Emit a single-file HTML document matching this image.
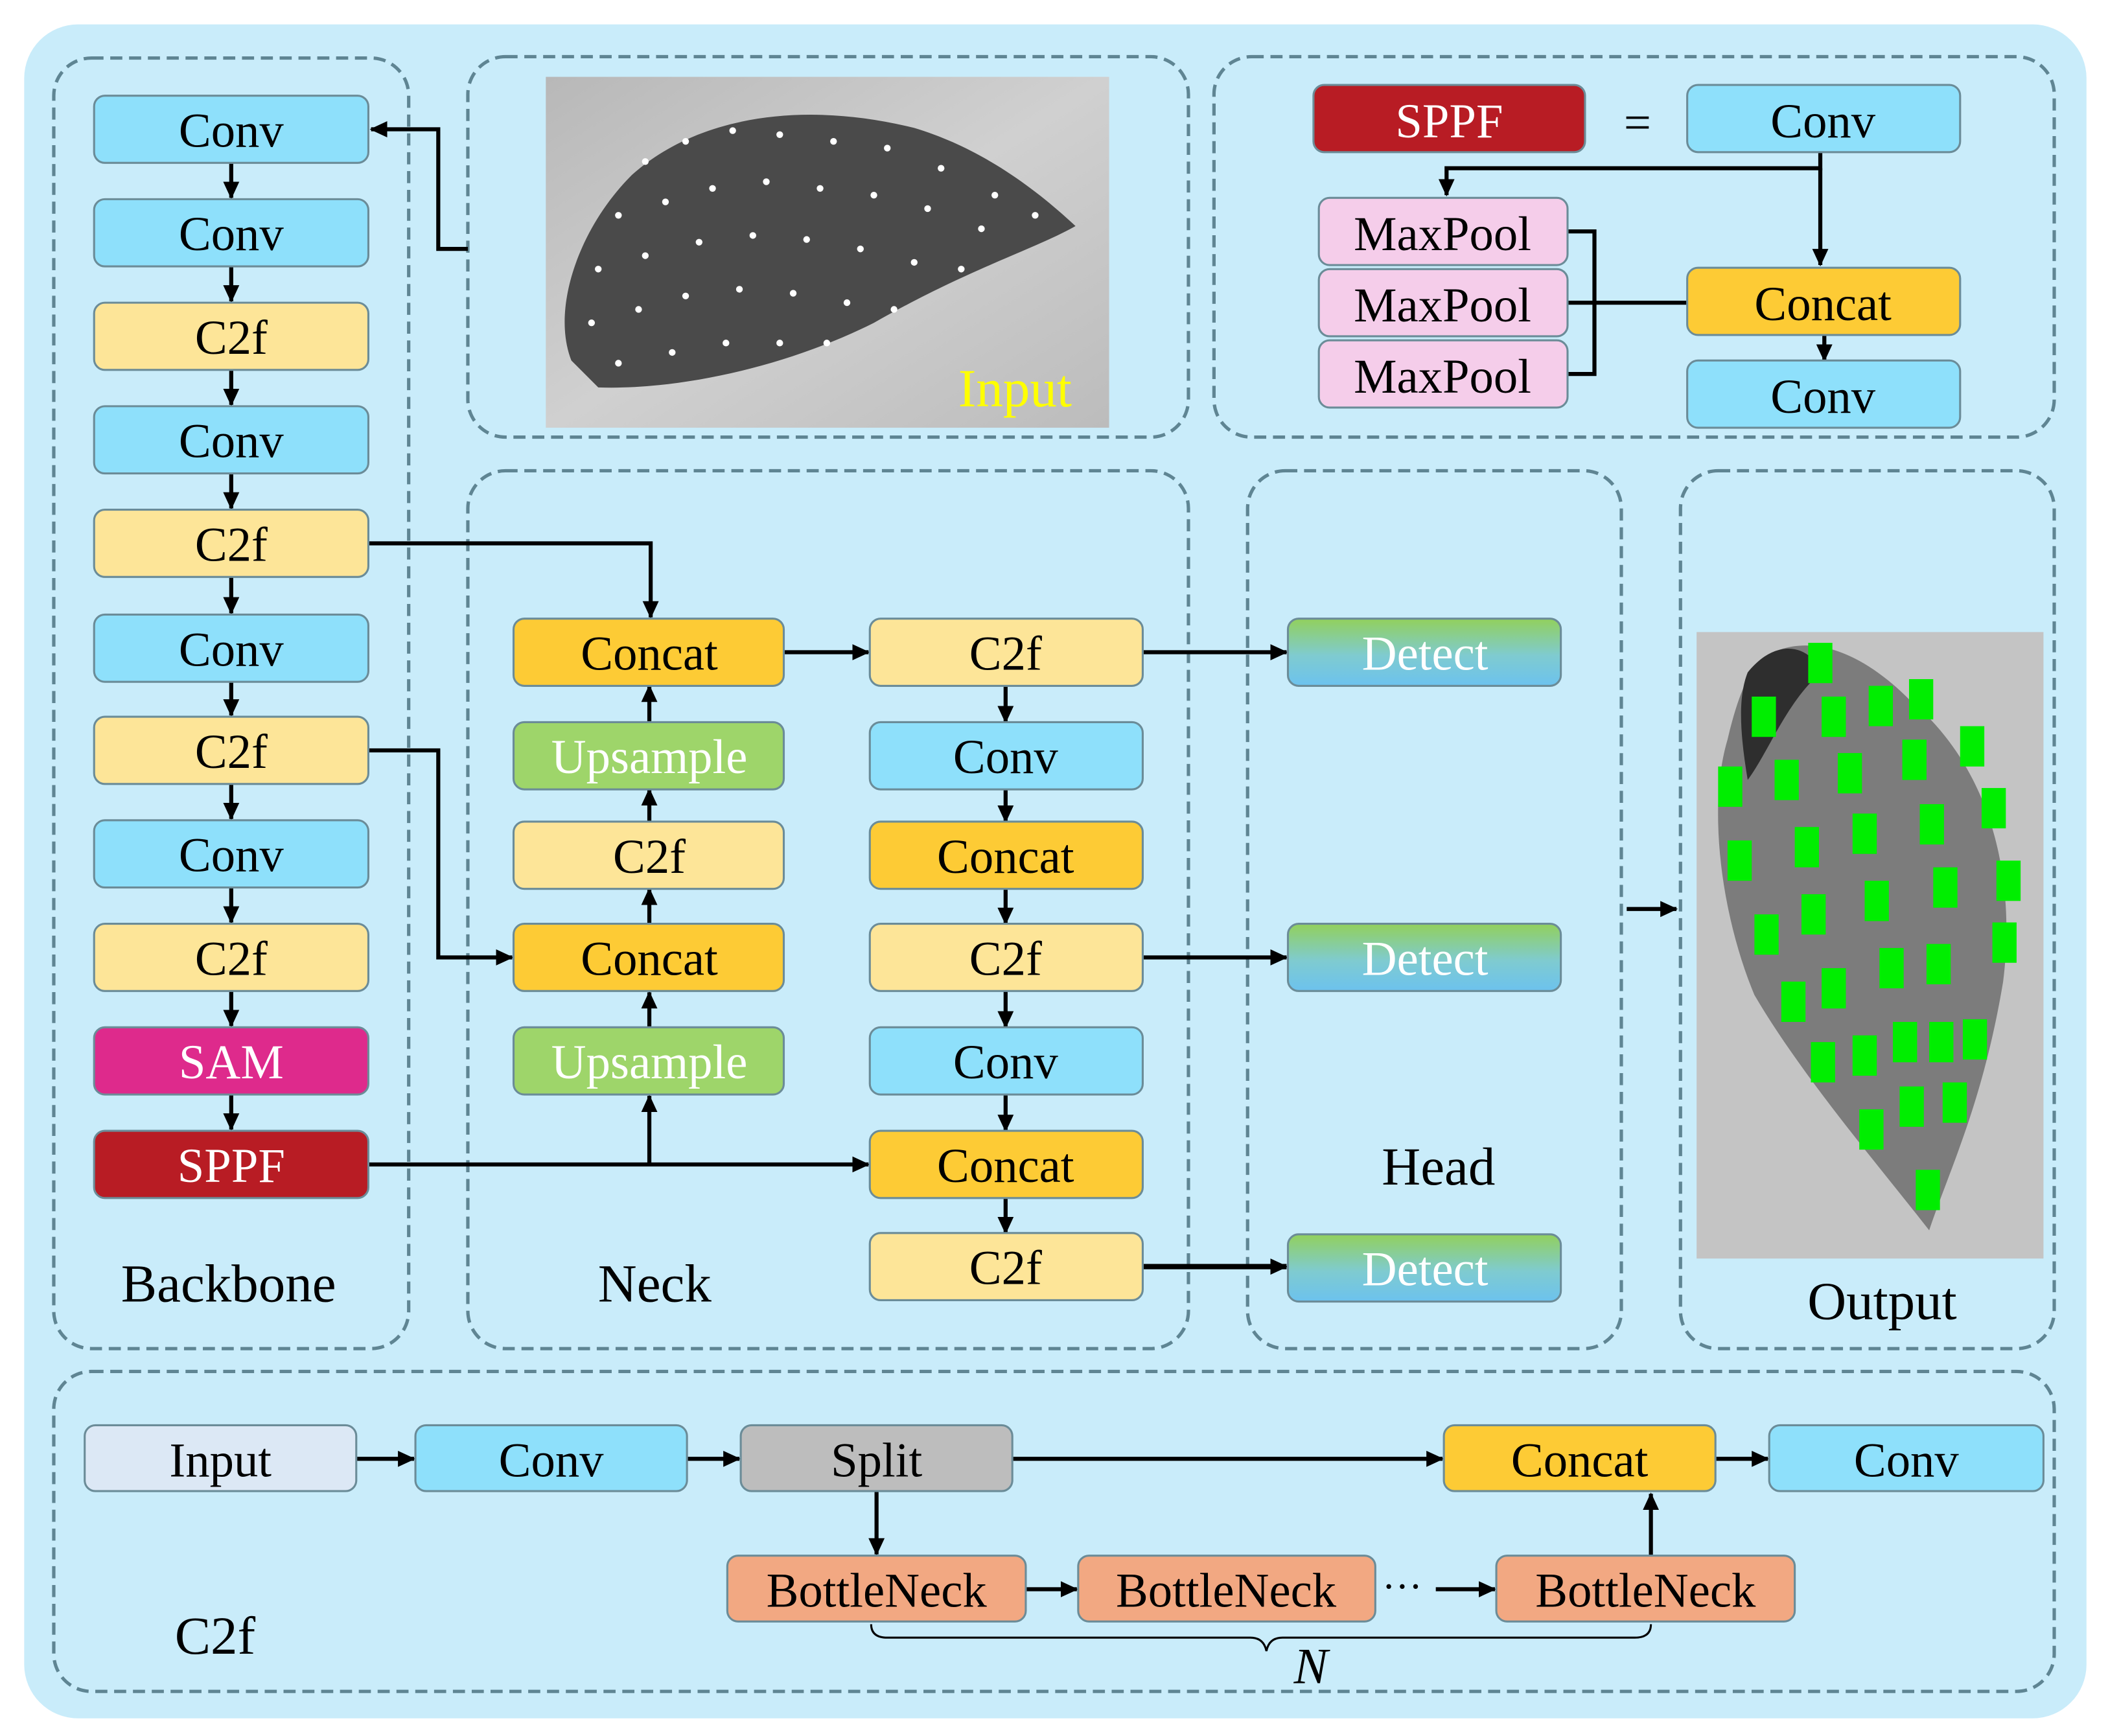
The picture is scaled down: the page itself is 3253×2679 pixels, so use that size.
<!DOCTYPE html>
<html><head><meta charset="utf-8"><style>
html,body{margin:0;padding:0;background:#fff;}
svg{display:block;}
text{font-family:"Liberation Serif",serif;}
</style></head><body>
<svg width="3253" height="2679" viewBox="0 0 1568 1291" xmlns="http://www.w3.org/2000/svg">
<defs>
<marker id="a" markerUnits="userSpaceOnUse" markerWidth="14" markerHeight="14" refX="12" refY="7" orient="auto"><path d="M0,1 L13,7 L0,13 Z" fill="#000"/></marker>
<linearGradient id="dg" x1="0" y1="0" x2="0" y2="1"><stop offset="0" stop-color="#92d05c"/><stop offset="0.55" stop-color="#7fcbd0"/><stop offset="1" stop-color="#6cc2ee"/></linearGradient>
<linearGradient id="bgimg" x1="0" y1="0" x2="1" y2="1"><stop offset="0" stop-color="#b8b8b8"/><stop offset="0.5" stop-color="#d0d0d0"/><stop offset="1" stop-color="#bcbcbc"/></linearGradient>
</defs>
<rect width="1568" height="1291" fill="#fff"/>
<rect x="18" y="18" width="1534" height="1260" rx="40" fill="#c9ecfa"/>
<g fill="none" stroke="#5f8593" stroke-width="2.5" stroke-dasharray="9,5">
<rect x="40" y="43" width="264" height="960" rx="28"/>
<rect x="348" y="42" width="536" height="283" rx="28"/>
<rect x="903" y="42" width="625" height="283" rx="28"/>
<rect x="348" y="350" width="536" height="653" rx="28"/>
<rect x="928" y="350" width="278" height="653" rx="28"/>
<rect x="1250" y="350" width="278" height="653" rx="28"/>
<rect x="40" y="1020" width="1488" height="238" rx="28"/>
</g>
<!-- input image -->
<rect x="406" y="57" width="419" height="261" fill="url(#bgimg)"/>
<path d="M425,268 C410,230 430,170 470,130 C520,85 600,75 680,95 C730,110 770,140 800,168 C770,185 720,200 650,240 C580,275 500,290 445,288 Z" fill="#4a4a4a"/>
<g fill="#fff">
<circle cx="480" cy="120" r="2.5"/><circle cx="510" cy="105" r="2.5"/><circle cx="545" cy="97" r="2.5"/><circle cx="580" cy="100" r="2.5"/><circle cx="620" cy="105" r="2.5"/><circle cx="660" cy="110" r="2.5"/><circle cx="700" cy="125" r="2.5"/><circle cx="740" cy="145" r="2.5"/>
<circle cx="460" cy="160" r="2.5"/><circle cx="495" cy="150" r="2.5"/><circle cx="530" cy="140" r="2.5"/><circle cx="570" cy="135" r="2.5"/><circle cx="610" cy="140" r="2.5"/><circle cx="650" cy="145" r="2.5"/><circle cx="690" cy="155" r="2.5"/><circle cx="730" cy="170" r="2.5"/><circle cx="770" cy="160" r="2.5"/>
<circle cx="445" cy="200" r="2.5"/><circle cx="480" cy="190" r="2.5"/><circle cx="520" cy="180" r="2.5"/><circle cx="560" cy="175" r="2.5"/><circle cx="600" cy="178" r="2.5"/><circle cx="640" cy="185" r="2.5"/><circle cx="680" cy="195" r="2.5"/><circle cx="715" cy="200" r="2.5"/>
<circle cx="440" cy="240" r="2.5"/><circle cx="475" cy="230" r="2.5"/><circle cx="510" cy="220" r="2.5"/><circle cx="550" cy="215" r="2.5"/><circle cx="590" cy="218" r="2.5"/><circle cx="630" cy="225" r="2.5"/><circle cx="665" cy="230" r="2.5"/>
<circle cx="460" cy="270" r="2.5"/><circle cx="500" cy="262" r="2.5"/><circle cx="540" cy="255" r="2.5"/><circle cx="580" cy="255" r="2.5"/><circle cx="615" cy="255" r="2.5"/>
</g>
<text x="755" y="302" font-size="40" fill="#ffff00" text-anchor="middle">Input</text>
<!-- output image -->
<rect x="1262" y="470" width="258" height="466" fill="#c4c4c4"/>
<path d="M1310,490 C1340,470 1380,480 1420,520 C1480,570 1500,650 1490,730 C1475,820 1450,870 1435,915 C1400,870 1340,800 1305,740 C1280,680 1270,600 1285,550 C1292,520 1300,500 1310,490 Z" fill="#7c7c7c"/>
<path d="M1300,500 C1320,475 1345,478 1355,500 C1330,520 1315,560 1300,580 C1295,550 1292,520 1300,500 Z" fill="#2e2e2e"/>
<g fill="#00ee00">
<rect x="1345" y="478" width="18" height="30"/><rect x="1303" y="518" width="18" height="30"/><rect x="1355" y="518" width="18" height="30"/><rect x="1390" y="510" width="18" height="30"/><rect x="1420" y="505" width="18" height="30"/>
<rect x="1278" y="570" width="18" height="30"/><rect x="1320" y="565" width="18" height="30"/><rect x="1367" y="560" width="18" height="30"/><rect x="1415" y="550" width="18" height="30"/><rect x="1458" y="540" width="18" height="30"/>
<rect x="1285" y="625" width="18" height="30"/><rect x="1335" y="615" width="18" height="30"/><rect x="1378" y="605" width="18" height="30"/><rect x="1428" y="598" width="18" height="30"/><rect x="1474" y="586" width="18" height="30"/>
<rect x="1305" y="680" width="18" height="30"/><rect x="1340" y="665" width="18" height="30"/><rect x="1387" y="655" width="18" height="30"/><rect x="1438" y="645" width="18" height="30"/><rect x="1485" y="640" width="18" height="30"/>
<rect x="1325" y="730" width="18" height="30"/><rect x="1355" y="720" width="18" height="30"/><rect x="1398" y="705" width="18" height="30"/><rect x="1433" y="702" width="18" height="30"/><rect x="1482" y="686" width="18" height="30"/>
<rect x="1347" y="775" width="18" height="30"/><rect x="1378" y="770" width="18" height="30"/><rect x="1408" y="760" width="18" height="30"/><rect x="1435" y="760" width="18" height="30"/><rect x="1460" y="758" width="18" height="30"/>
<rect x="1383" y="825" width="18" height="30"/><rect x="1413" y="808" width="18" height="30"/><rect x="1445" y="805" width="18" height="30"/><rect x="1425" y="870" width="18" height="30"/>
</g>
<!-- connectors -->
<g stroke="#000" stroke-width="3" fill="none">
<polyline points="348,185 326,185 326,96 276,96" marker-end="url(#a)"/>
<line x1="172" y1="121" x2="172" y2="147" marker-end="url(#a)"/>
<line x1="172" y1="198" x2="172" y2="224" marker-end="url(#a)"/>
<line x1="172" y1="275" x2="172" y2="301" marker-end="url(#a)"/>
<line x1="172" y1="352" x2="172" y2="378" marker-end="url(#a)"/>
<line x1="172" y1="429" x2="172" y2="456" marker-end="url(#a)"/>
<line x1="172" y1="507" x2="172" y2="532" marker-end="url(#a)"/>
<line x1="172" y1="583" x2="172" y2="609" marker-end="url(#a)"/>
<line x1="172" y1="660" x2="172" y2="686" marker-end="url(#a)"/>
<line x1="172" y1="737" x2="172" y2="763" marker-end="url(#a)"/>
<line x1="172" y1="814" x2="172" y2="840" marker-end="url(#a)"/>
<polyline points="274,404 484,404 484,459" marker-end="url(#a)"/>
<polyline points="274,558 326,558 326,712 381,712" marker-end="url(#a)"/>
<line x1="274" y1="866" x2="646" y2="866" marker-end="url(#a)"/>
<line x1="483" y1="866" x2="483" y2="815" marker-end="url(#a)"/>
<line x1="483" y1="764" x2="483" y2="738" marker-end="url(#a)"/>
<line x1="483" y1="687" x2="483" y2="661" marker-end="url(#a)"/>
<line x1="483" y1="611" x2="483" y2="587" marker-end="url(#a)"/>
<line x1="483" y1="537" x2="483" y2="510" marker-end="url(#a)"/>
<line x1="583" y1="485" x2="646" y2="485" marker-end="url(#a)"/>
<line x1="748" y1="510" x2="748" y2="537" marker-end="url(#a)"/>
<line x1="748" y1="587" x2="748" y2="611" marker-end="url(#a)"/>
<line x1="748" y1="661" x2="748" y2="687" marker-end="url(#a)"/>
<line x1="748" y1="737" x2="748" y2="764" marker-end="url(#a)"/>
<line x1="748" y1="814" x2="748" y2="841" marker-end="url(#a)"/>
<line x1="748" y1="891" x2="748" y2="917" marker-end="url(#a)"/>
<line x1="850" y1="485" x2="957" y2="485" marker-end="url(#a)"/>
<line x1="850" y1="712" x2="957" y2="712" marker-end="url(#a)"/>
<line x1="850" y1="942" x2="957" y2="942" marker-end="url(#a)" stroke-width="4"/>
<line x1="1210" y1="676" x2="1247" y2="676" marker-end="url(#a)"/>
<!-- SPPF -->
<polyline points="1354,113 1354,125 1076,125 1076,145" marker-end="url(#a)"/>
<line x1="1354" y1="125" x2="1354" y2="197" marker-end="url(#a)"/>
<polyline points="1166,172 1186,172 1186,278 1166,278"/>
<line x1="1166" y1="225" x2="1255" y2="225"/>
<line x1="1357" y1="249" x2="1357" y2="268" marker-end="url(#a)"/>
<!-- C2f -->
<line x1="265" y1="1085" x2="308" y2="1085" marker-end="url(#a)"/>
<line x1="511" y1="1085" x2="550" y2="1085" marker-end="url(#a)"/>
<line x1="753" y1="1085" x2="1073" y2="1085" marker-end="url(#a)"/>
<line x1="1276" y1="1085" x2="1315" y2="1085" marker-end="url(#a)"/>
<line x1="652" y1="1109" x2="652" y2="1156" marker-end="url(#a)"/>
<line x1="763" y1="1182" x2="801" y2="1182" marker-end="url(#a)"/>
<line x1="1068" y1="1182" x2="1112" y2="1182" marker-end="url(#a)"/>
<line x1="1228" y1="1157" x2="1228" y2="1111" marker-end="url(#a)"/>
</g>
<path d="M648,1208 Q648,1218 660,1218 L930,1218 Q940,1218 942,1228 Q944,1218 954,1218 L1216,1218 Q1228,1218 1228,1208" fill="none" stroke="#000" stroke-width="1.5"/>
<text x="975" y="1252" font-size="38" font-style="italic" text-anchor="middle">N</text>
<text x="1043" y="1190" font-size="30" text-anchor="middle">···</text>
<!-- boxes -->
<g stroke="#6b8c98" stroke-width="1.5">
<rect x="70" y="71" width="204" height="50" rx="8" fill="#8ee0fb"/>
<rect x="70" y="148" width="204" height="50" rx="8" fill="#8ee0fb"/>
<rect x="70" y="225" width="204" height="50" rx="8" fill="#fde598"/>
<rect x="70" y="302" width="204" height="50" rx="8" fill="#8ee0fb"/>
<rect x="70" y="379" width="204" height="50" rx="8" fill="#fde598"/>
<rect x="70" y="457" width="204" height="50" rx="8" fill="#8ee0fb"/>
<rect x="70" y="533" width="204" height="50" rx="8" fill="#fde598"/>
<rect x="70" y="610" width="204" height="50" rx="8" fill="#8ee0fb"/>
<rect x="70" y="687" width="204" height="50" rx="8" fill="#fde598"/>
<rect x="70" y="764" width="204" height="50" rx="8" fill="#de2a8c"/>
<rect x="70" y="841" width="204" height="50" rx="8" fill="#b81c24"/>
<rect x="382" y="460" width="201" height="50" rx="8" fill="#fdcb35"/>
<rect x="382" y="537" width="201" height="50" rx="8" fill="#9ed56a"/>
<rect x="382" y="611" width="201" height="50" rx="8" fill="#fde598"/>
<rect x="382" y="687" width="201" height="50" rx="8" fill="#fdcb35"/>
<rect x="382" y="764" width="201" height="50" rx="8" fill="#9ed56a"/>
<rect x="647" y="460" width="203" height="50" rx="8" fill="#fde598"/>
<rect x="647" y="537" width="203" height="50" rx="8" fill="#8ee0fb"/>
<rect x="647" y="611" width="203" height="50" rx="8" fill="#fdcb35"/>
<rect x="647" y="687" width="203" height="50" rx="8" fill="#fde598"/>
<rect x="647" y="764" width="203" height="50" rx="8" fill="#8ee0fb"/>
<rect x="647" y="841" width="203" height="50" rx="8" fill="#fdcb35"/>
<rect x="647" y="917" width="203" height="50" rx="8" fill="#fde598"/>
<rect x="958" y="460" width="203" height="50" rx="8" fill="url(#dg)"/>
<rect x="958" y="687" width="203" height="50" rx="8" fill="url(#dg)"/>
<rect x="958" y="918" width="203" height="50" rx="8" fill="url(#dg)"/>
<rect x="977" y="63" width="202" height="50" rx="8" fill="#b81c24"/>
<rect x="1255" y="63" width="203" height="50" rx="8" fill="#8ee0fb"/>
<rect x="981" y="147" width="185" height="50" rx="8" fill="#f5cdea"/>
<rect x="981" y="200" width="185" height="50" rx="8" fill="#f5cdea"/>
<rect x="981" y="253" width="185" height="50" rx="8" fill="#f5cdea"/>
<rect x="1255" y="199" width="203" height="50" rx="8" fill="#fdcb35"/>
<rect x="1255" y="268" width="203" height="50" rx="8" fill="#8ee0fb"/>
<rect x="63" y="1060" width="202" height="49" rx="8" fill="#dce8f5"/>
<rect x="309" y="1060" width="202" height="49" rx="8" fill="#8ee0fb"/>
<rect x="551" y="1060" width="202" height="49" rx="8" fill="#bdbdbd"/>
<rect x="1074" y="1060" width="202" height="49" rx="8" fill="#fdcb35"/>
<rect x="1316" y="1060" width="204" height="49" rx="8" fill="#8ee0fb"/>
<rect x="541" y="1157" width="222" height="49" rx="8" fill="#f2a882"/>
<rect x="802" y="1157" width="221" height="49" rx="8" fill="#f2a882"/>
<rect x="1113" y="1157" width="222" height="49" rx="8" fill="#f2a882"/>
</g>
<g font-size="36" text-anchor="middle" fill="#000">
<text x="172" y="109">Conv</text><text x="172" y="186">Conv</text><text x="172" y="263">C2f</text><text x="172" y="340">Conv</text><text x="172" y="417">C2f</text><text x="172" y="495">Conv</text><text x="172" y="571">C2f</text><text x="172" y="648">Conv</text><text x="172" y="725">C2f</text>
<text x="172" y="802" fill="#fff">SAM</text><text x="172" y="879" fill="#fff">SPPF</text>
<text x="483" y="498">Concat</text><text x="483" y="575" fill="#fff">Upsample</text><text x="483" y="649">C2f</text><text x="483" y="725">Concat</text><text x="483" y="802" fill="#fff">Upsample</text>
<text x="748" y="498">C2f</text><text x="748" y="575">Conv</text><text x="748" y="649">Concat</text><text x="748" y="725">C2f</text><text x="748" y="802">Conv</text><text x="748" y="879">Concat</text><text x="748" y="955">C2f</text>
<text x="1060" y="498" fill="#fff">Detect</text><text x="1060" y="725" fill="#fff">Detect</text><text x="1060" y="956" fill="#fff">Detect</text>
<text x="1078" y="102" fill="#fff">SPPF</text><text x="1218" y="103">=</text><text x="1356" y="102">Conv</text>
<text x="1073" y="186">MaxPool</text><text x="1073" y="239">MaxPool</text><text x="1073" y="292">MaxPool</text>
<text x="1356" y="238">Concat</text><text x="1356" y="307">Conv</text>
<text x="164" y="1098">Input</text><text x="410" y="1098">Conv</text><text x="652" y="1098">Split</text><text x="1175" y="1098">Concat</text><text x="1418" y="1098">Conv</text>
<text x="652" y="1195">BottleNeck</text><text x="912" y="1195">BottleNeck</text><text x="1224" y="1195">BottleNeck</text>
</g>
<g font-size="40" text-anchor="middle" fill="#000">
<text x="170" y="968">Backbone</text><text x="487" y="968">Neck</text><text x="1070" y="881">Head</text><text x="1400" y="981">Output</text><text x="160" y="1230">C2f</text>
</g>
</svg>
</body></html>
